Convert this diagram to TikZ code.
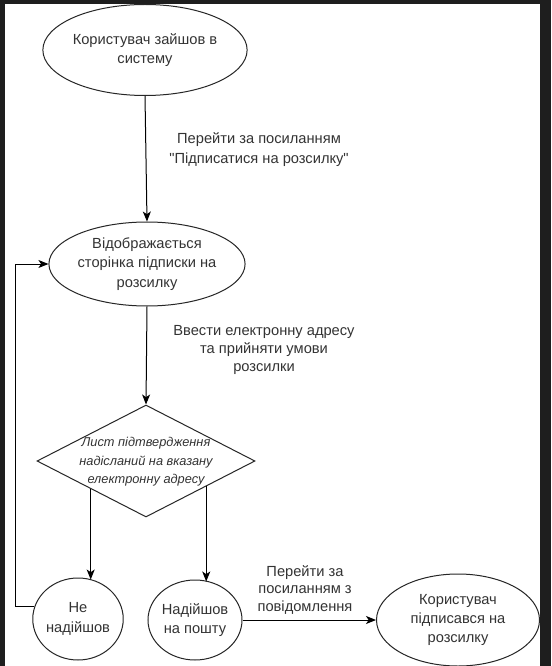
\documentclass[tikz,border=0pt]{standalone}
\usepackage{fontspec}
\newfontfamily\lab{Liberation Sans}
\usetikzlibrary{shapes.geometric,arrows.meta,calc}
\definecolor{frame}{HTML}{1E1E1E}
\definecolor{ink}{HTML}{333333}
\tikzset{
  every node/.style={font=\lab\fontsize{11pt}{14.5pt}\selectfont, text=ink, align=center},
  oval/.style={ellipse, draw=black!85, line width=0.75pt, inner sep=0pt},
  arr/.style={-{Stealth[length=7.5pt,width=6pt,inset=2pt]}, line width=0.75pt, draw=black},
  ln/.style={line width=0.75pt, draw=black},
}
\begin{document}
\begin{tikzpicture}[x=0.75pt,y=-0.75pt]
\useasboundingbox (0,0) rectangle (551,666);
\fill[frame] (0,0) rectangle (551,666);
\fill[white] (5,4) rectangle (540,666);

\node[oval, minimum width=164*0.75pt, minimum height=91*0.75pt] (e1) at (145,50) {Користувач зайшов в\\систему};
\node[oval, minimum width=165*0.75pt, minimum height=84*0.75pt] (e2) at (147,264) {Відображається\\сторінка підписки на\\розсилку};
\node[diamond, draw=black!85, line width=0.75pt, inner sep=0pt, minimum width=218*0.75pt, minimum height=112*0.75pt] (d) at (146,461) {};
\node[font=\lab\itshape\fontsize{9.6pt}{13.8pt}\selectfont] (dt) at (146,462) {Лист підтвердження\\надісланий на вказану\\електронну адресу};
\node[oval, minimum width=86*0.75pt, minimum height=82*0.75pt] (n1) at (78,619) {Не\\надійшов};
\node[oval, minimum width=87*0.75pt, minimum height=80*0.75pt] (n2) at (195,620) {Надійшов\\на пошту};
\node[oval, minimum width=163*0.75pt, minimum height=92*0.75pt] (e3) at (458,620) {Користувач\\підписався на\\розсилку};

\node[font=\lab\fontsize{11pt}{15pt}\selectfont] (l1) at (259,150) {Перейти за посиланням\\"Підписатися на розсилку"};
\node[font=\lab\fontsize{11pt}{13.4pt}\selectfont] (l2) at (264,350) {Ввести електронну адресу\\та прийняти умови\\розсилки};
\node[font=\lab\fontsize{11pt}{13.4pt}\selectfont] (l3) at (305,590) {Перейти за\\посиланням з\\повідомлення};

\draw[arr] (e1.south) -- (e2.north);
\draw[arr] (e2.south) -- (d.north);
\coordinate (pl) at ($(d.west)!0.495!(d.south)$);
\coordinate (pr) at ($(d.south)!0.55!(d.east)$);
\draw[arr] (pl) -- ($(pl |- n1.north)+(0,2)$);
\draw[arr] (pr) -- ($(pr |- n2.north)+(0,2)$);
\draw[arr] (n2.east) -- (e3.west);
\coordinate (lx) at (15,607);
\draw[arr] (n1.164) -- (n1.164 -| lx) |- (e2.west);
\end{tikzpicture}
\end{document}
